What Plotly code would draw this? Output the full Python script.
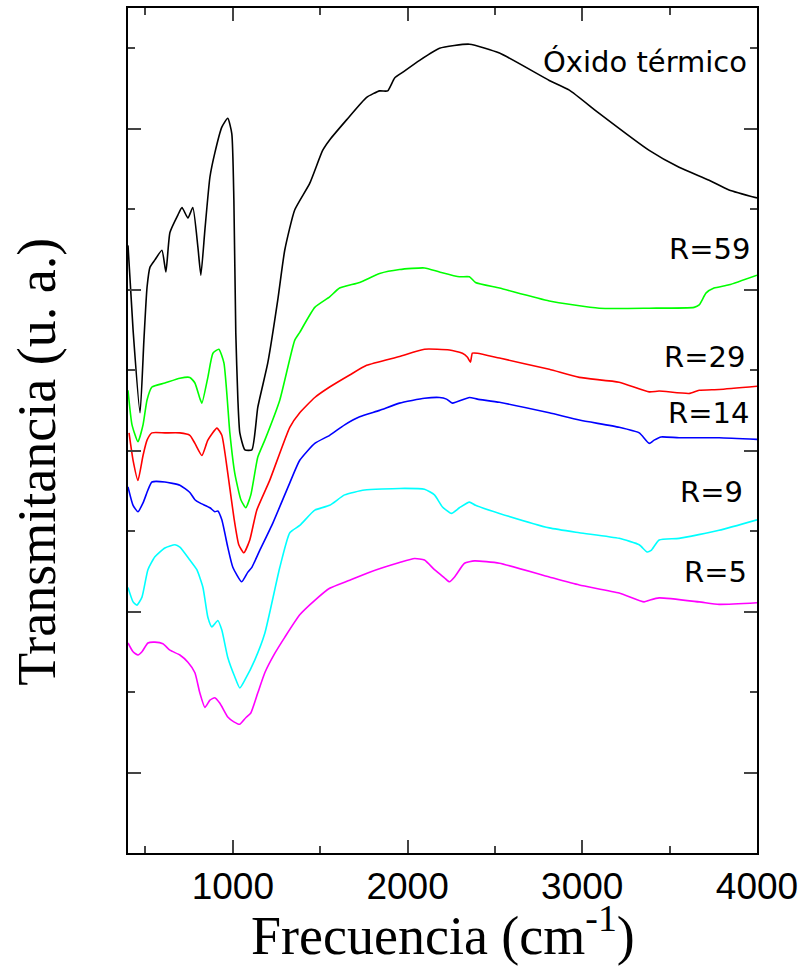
import plotly.graph_objects as go

# espectros FTIR (transmitancia en unidades arbitrarias, curvas desplazadas)
x_oxido = [400, 429, 469, 491, 509, 526, 554, 594, 617, 640, 686, 709, 743, 771, 800, 817, 840, 869,
           897, 937, 971, 994, 1006, 1017, 1029, 1040, 1069, 1109, 1143, 1200, 1257, 1297, 1354, 1440,
           1514, 1554, 1651, 1766, 1840, 1886, 1926, 1971, 2069, 2183, 2354, 2526, 2811, 2926, 3097,
           3383, 3554, 3726, 3840, 4000]
y_oxido = [7.55, 6.50, 5.47, 6.37, 7.03, 7.28, 7.37, 7.49, 7.22, 7.71, 7.93, 8.02, 7.89, 8.02, 7.53,
           7.18, 7.74, 8.40, 8.70, 9.02, 9.13, 8.94, 8.11, 6.46, 5.63, 5.22, 5.01, 5.01, 5.54, 6.09,
           6.87, 7.49, 7.99, 8.32, 8.73, 8.86, 9.11, 9.39, 9.47, 9.47, 9.63, 9.70, 9.85, 10.00, 10.05,
           9.94, 9.60, 9.48, 9.19, 8.73, 8.52, 8.36, 8.24, 8.14]

x_r59 = [400, 423, 457, 486, 509, 537, 611, 697, 754, 783, 811, 823, 857, 886, 920, 949, 983, 1011,
         1046, 1074, 1103, 1143, 1183, 1269, 1354, 1383, 1469, 1554, 1611, 1726, 1840, 1954, 2097,
         2183, 2297, 2354, 2389, 2526, 2811, 3097, 3383, 3640, 3669, 3709, 3754, 3840, 4000]
y_r59 = [5.75, 5.32, 5.11, 5.32, 5.63, 5.79, 5.84, 5.90, 5.91, 5.84, 5.65, 5.59, 5.91, 6.21, 6.26,
         6.09, 5.22, 4.72, 4.39, 4.29, 4.45, 4.92, 5.13, 5.63, 6.37, 6.47, 6.78, 6.91, 7.02, 7.09,
         7.20, 7.25, 7.27, 7.22, 7.16, 7.16, 7.09, 7.02, 6.86, 6.77, 6.77, 6.78, 6.81, 6.96, 7.02,
         7.06, 7.18]

x_r29 = [406, 429, 457, 486, 509, 537, 611, 697, 754, 783, 823, 857, 909, 937, 971, 1006, 1034, 1063,
         1097, 1137, 1211, 1326, 1383, 1469, 1554, 1669, 1766, 1954, 2097, 2240, 2314, 2343, 2360,
         2371, 2400, 2526, 2811, 2983, 3211, 3383, 3440, 3611, 3669, 3783, 4000]
y_r29 = [5.22, 4.88, 4.63, 4.94, 5.13, 5.22, 5.22, 5.22, 5.19, 5.09, 4.94, 5.13, 5.28, 5.19, 4.72,
         4.17, 3.83, 3.73, 3.89, 4.26, 4.63, 5.29, 5.47, 5.66, 5.79, 5.94, 6.06, 6.17, 6.26, 6.25,
         6.21, 6.16, 6.10, 6.21, 6.21, 6.15, 6.01, 5.91, 5.85, 5.73, 5.74, 5.71, 5.75, 5.76, 5.80]

x_r14 = [400, 429, 457, 486, 514, 537, 611, 697, 754, 783, 811, 869, 897, 914, 937, 971, 1000, 1051,
         1086, 1109, 1154, 1229, 1326, 1383, 1469, 1554, 1640, 1726, 1840, 1954, 2097, 2183, 2223,
         2257, 2354, 2400, 2526, 2811, 2983, 3211, 3326, 3383, 3411, 3451, 3554, 3783, 4000]
y_r14 = [4.55, 4.32, 4.24, 4.35, 4.51, 4.61, 4.61, 4.57, 4.48, 4.39, 4.35, 4.29, 4.24, 4.25, 4.14,
         3.80, 3.55, 3.37, 3.49, 3.55, 3.76, 4.10, 4.60, 4.88, 5.09, 5.19, 5.32, 5.42, 5.50, 5.59,
         5.65, 5.66, 5.64, 5.59, 5.66, 5.64, 5.60, 5.47, 5.38, 5.29, 5.22, 5.09, 5.13, 5.17, 5.16,
         5.16, 5.14]

x_r9 = [400, 429, 451, 480, 514, 554, 611, 669, 697, 754, 794, 829, 857, 880, 914, 937, 971, 1011,
        1040, 1069, 1126, 1183, 1269, 1326, 1383, 1469, 1554, 1640, 1754, 1954, 2097, 2154, 2200,
        2251, 2297, 2354, 2389, 2526, 2811, 2983, 3211, 3326, 3371, 3394, 3440, 3554, 3783, 4000]
y_r9 = [3.30, 3.12, 3.08, 3.18, 3.52, 3.68, 3.79, 3.83, 3.80, 3.64, 3.52, 3.30, 2.93, 2.81, 2.89,
        2.77, 2.43, 2.19, 2.05, 2.15, 2.40, 2.73, 3.55, 3.98, 4.07, 4.26, 4.32, 4.45, 4.51, 4.53,
        4.52, 4.45, 4.30, 4.22, 4.29, 4.36, 4.32, 4.22, 4.04, 3.98, 3.91, 3.83, 3.74, 3.76, 3.89,
        3.91, 4.01, 4.14]

x_r5 = [400, 429, 457, 480, 514, 554, 600, 640, 697, 743, 783, 811, 840, 869, 897, 926, 971, 1006,
        1040, 1074, 1103, 1143, 1183, 1240, 1297, 1383, 1469, 1554, 1669, 1783, 1954, 2040, 2097,
        2154, 2211, 2240, 2269, 2326, 2383, 2526, 2811, 2983, 3211, 3354, 3383, 3440, 3669, 3783,
        4000]
y_r5 = [2.61, 2.50, 2.46, 2.50, 2.61, 2.62, 2.60, 2.52, 2.46, 2.37, 2.24, 1.99, 1.81, 1.90, 1.93,
        1.86, 1.69, 1.63, 1.60, 1.68, 1.74, 1.99, 2.24, 2.48, 2.68, 2.96, 3.14, 3.29, 3.39, 3.49,
        3.61, 3.66, 3.64, 3.52, 3.42, 3.37, 3.43, 3.60, 3.63, 3.60, 3.43, 3.33, 3.23, 3.12, 3.14,
        3.17, 3.12, 3.09, 3.11]

series = [
    (x_oxido, y_oxido, "black"),
    (x_r59, y_r59, "#00ff00"),
    (x_r29, y_r29, "#ff0000"),
    (x_r14, y_r14, "#0000ff"),
    (x_r9, y_r9, "#00ffff"),
    (x_r5, y_r5, "#ff00ff"),
]

# etiquetas de cada curva
labels = ["Óxido térmico", "R=59", "R=29", "R=14", "R=9", "R=5"]
label_x = [3954, 3971, 3943, 3966, 3931, 3954]
label_y = [9.83, 7.50, 6.16, 5.47, 4.48, 3.49]

fig = go.Figure()
for xs, ys, col in series:
    fig.add_trace(go.Scatter(x=xs, y=ys, mode="lines",
                             line=dict(color=col, width=1.6, shape="spline", smoothing=0.5),
                             showlegend=False))

for txt, lx, ly in zip(labels, label_x, label_y):
    fig.add_annotation(x=lx, y=ly, text=txt, showarrow=False, xanchor="right", yanchor="middle",
                       font=dict(family="DejaVu Sans", size=29, color="black"))

# titulos de ejes como anotaciones para fijar su posicion
fig.add_annotation(x=0.5, y=0, xref="paper", yref="paper", yshift=-78,
                   text="Frecuencia (cm<sup>-1</sup>)", showarrow=False,
                   xanchor="center", yanchor="middle",
                   font=dict(family="Liberation Serif", size=54, color="black"))
fig.add_annotation(x=0, y=0.463, xref="paper", yref="paper", xshift=-91,
                   text="Transmitancia (u. a.)", showarrow=False, textangle=-90,
                   xanchor="center", yanchor="middle",
                   font=dict(family="Liberation Serif", size=54, color="black"))

fig.update_xaxes(range=[400, 4000], tick0=0, dtick=1000, ticks="inside", ticklen=13, tickwidth=1.5,
                 minor=dict(tick0=0, dtick=500, ticks="inside", ticklen=7, tickwidth=1.5),
                 showline=True, linecolor="black", linewidth=2, mirror="ticks",
                 showgrid=False, zeroline=False, automargin=False,
                 tickfont=dict(family="Liberation Sans", size=37, color="black"))
fig.update_yaxes(range=[0, 10.5], tick0=1, dtick=2, ticks="inside", ticklen=13, tickwidth=1.5,
                 minor=dict(tick0=0, dtick=1, ticks="inside", ticklen=7, tickwidth=1.5),
                 showline=True, linecolor="black", linewidth=2, mirror="ticks",
                 showgrid=False, zeroline=False, showticklabels=False, automargin=False)

fig.update_layout(width=801, height=967, plot_bgcolor="white", paper_bgcolor="white",
                  margin=dict(l=128, r=44, t=8, b=114))

# sin margen del body para que la figura empiece en la esquina
fig.write_html("out.html", config={"displayModeBar": False},
               post_script="document.body.style.margin='0px';")
